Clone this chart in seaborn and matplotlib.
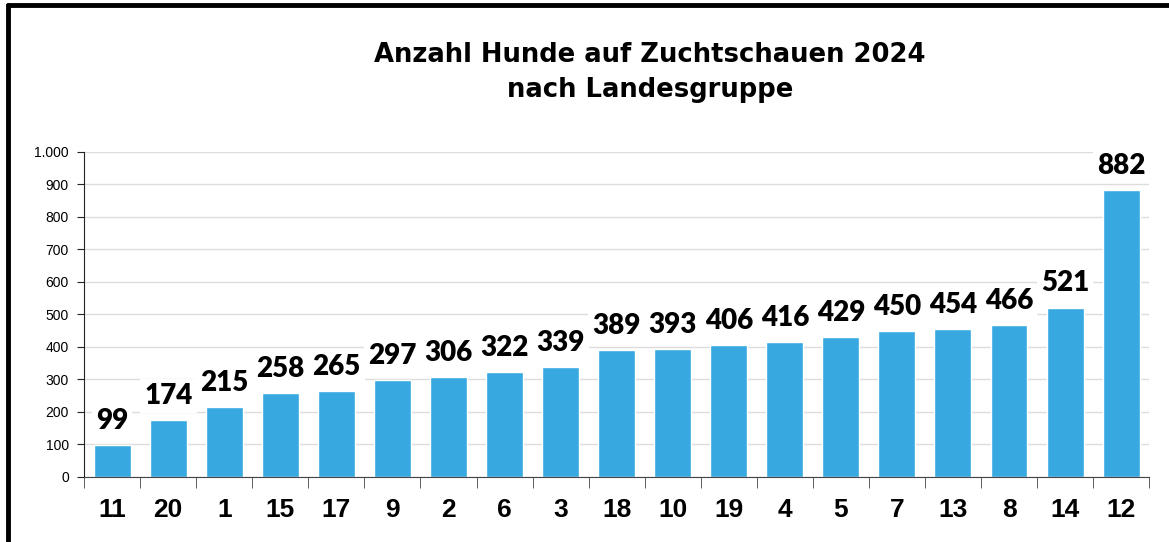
import numpy as np
import pandas as pd
import matplotlib.pyplot as plt
import seaborn as sns
from matplotlib.lines import Line2D

# data (Landesgruppe, Anzahl Hunde)
landesgruppen = ['11', '20', '1', '15', '17', '9', '2', '6', '3', '18',
                 '10', '19', '4', '5', '7', '13', '8', '14', '12']
anzahl = [99, 174, 215, 258, 265, 297, 306, 322, 339, 389,
          393, 406, 416, 429, 450, 454, 466, 521, 882]
yticks = [0, 100, 200, 300, 400, 500, 600, 700, 800, 900, 1000]
ytick_labels = ['0', '100', '200', '300', '400', '500', '600', '700', '800', '900', '1.000']

df = pd.DataFrame({'lg': landesgruppen, 'n': anzahl})

sns.set_style('white')
plt.rcParams['font.family'] = ['Liberation Sans', 'DejaVu Sans']
plt.rcParams['text.color'] = 'black'
plt.rcParams['xtick.color'] = 'black'
plt.rcParams['ytick.color'] = 'black'

fig = plt.figure(figsize=(11.69, 5.42), dpi=100)
ax = fig.add_axes([0.072, 0.12, 0.911, 0.6])

sns.barplot(data=df, x='lg', y='n', order=landesgruppen, color='#38A9E0',
            saturation=1, width=0.66, ax=ax, zorder=2)

ax.set_ylim(0, 1000)
ax.set_yticks(yticks)
ax.set_yticklabels(ytick_labels, fontsize=10)
ax.yaxis.grid(True, color='#dcdcdc', linewidth=1, zorder=0)
ax.set_axisbelow(True)
ax.set_xlabel('')
ax.set_ylabel('')

for s in ['top', 'right']:
    ax.spines[s].set_visible(False)
ax.spines['left'].set_color('#222222')
ax.spines['bottom'].set_color('#444444')
ax.tick_params(axis='y', direction='out', length=5, color='#222222', pad=6, left=True)

# tick marks between categories, labels at centres
n = len(landesgruppen)
ax.set_xticks(np.arange(-0.5, n), minor=True)
ax.tick_params(axis='x', which='minor', direction='out', length=8, color='#444444', bottom=True)
ax.tick_params(axis='x', which='major', length=0, pad=15)
for lbl in ax.get_xticklabels():
    lbl.set_fontsize(19)
    lbl.set_fontweight('bold')

# value labels with white background
for i, v in enumerate(anzahl):
    ax.annotate(str(v), (i, v), xytext=(0, 8), textcoords='offset points',
                ha='center', va='bottom', fontsize=20, fontweight='heavy',
                family=['Lato', 'DejaVu Sans'], zorder=5,
                bbox=dict(boxstyle='square,pad=0.15', fc='white', ec='none'))

fig.text(0.556, 0.866, 'Anzahl Hunde auf Zuchtschauen 2024\nnach Landesgruppe',
         ha='center', va='center', fontsize=18.6, fontweight='bold',
         family=['DejaVu Sans'], linespacing=1.45)

# thick frame on left and top
fig.add_artist(Line2D([0.0065, 0.0065], [0.0, 0.99], transform=fig.transFigure,
                      color='black', linewidth=3.5))
fig.add_artist(Line2D([0.0065, 1.0], [0.99, 0.99], transform=fig.transFigure,
                      color='black', linewidth=3.5))

fig.savefig('out.png', dpi=100)
